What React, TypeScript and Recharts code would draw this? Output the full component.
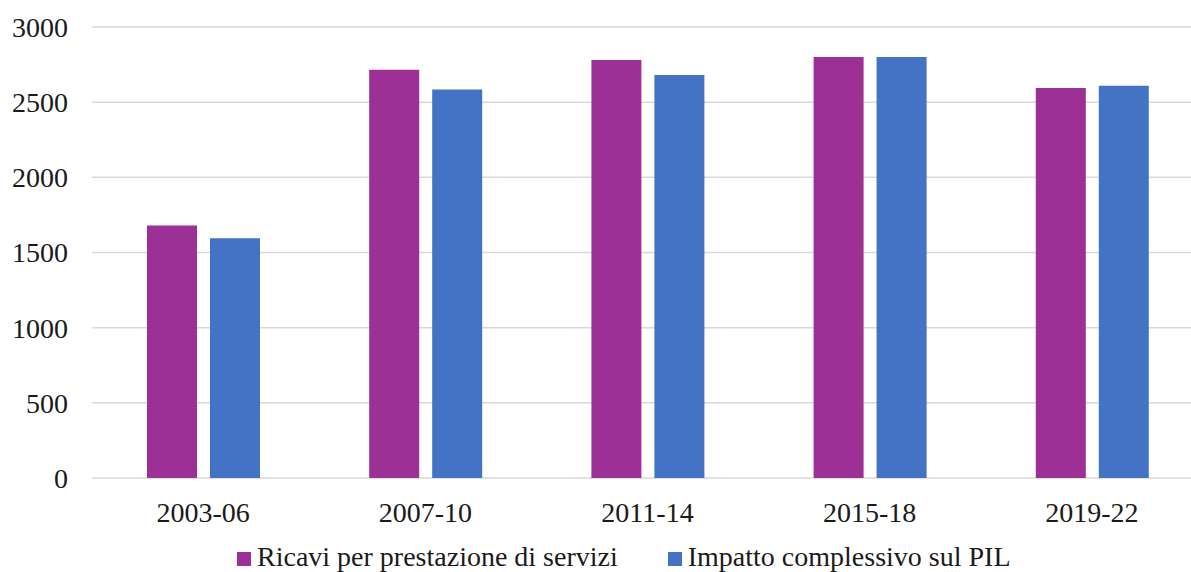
import React from "react";
import {
  BarChart,
  Bar,
  XAxis,
  YAxis,
  CartesianGrid,
  Legend,
} from "recharts";

// four-year periods on the category axis
const periods = ["2003-06", "2007-10", "2011-14", "2015-18", "2019-22"];

// revenue from services and overall GDP impact per period
const ricavi = [1680, 2715, 2780, 2800, 2595];
const impatto = [1595, 2585, 2680, 2800, 2610];

const yTicks = [0, 500, 1000, 1500, 2000, 2500, 3000];

const seriesKeys = ["ricavi", "impatto"];
const seriesNames = {
  ricavi: "Ricavi per prestazione di servizi",
  impatto: "Impatto complessivo sul PIL",
};

const data = periods.map((period, i) => ({
  period,
  ricavi: ricavi[i],
  impatto: impatto[i],
}));

const FONT = '"Liberation Serif", "Times New Roman", serif';
const PURPLE = "#9C3096";
const BLUE = "#4472C4";

function LegendContent({ payload }: any) {
  // keep the legend in series order rather than alphabetical
  const items = [...(payload || [])].sort(
    (a: any, b: any) =>
      seriesKeys.indexOf(a.dataKey) - seriesKeys.indexOf(b.dataKey)
  );
  return (
    <div
      style={{
        display: "flex",
        alignItems: "baseline",
        paddingLeft: 237,
        height: 34,
        lineHeight: "34px",
        fontFamily: FONT,
        fontSize: 28,
        color: "#1a1a1a",
      }}
    >
      {items.map((entry: any) => (
        <div
          key={entry.value}
          style={{ display: "flex", alignItems: "baseline", marginRight: 50 }}
        >
          <span
            style={{
              display: "inline-block",
              width: 14,
              height: 14,
              background: entry.color,
              marginRight: 6,
            }}
          />
          <span>{entry.value}</span>
        </div>
      ))}
    </div>
  );
}

export default function App() {
  return (
    <div
      style={{
        position: "absolute",
        left: 0,
        top: 0,
        width: 1191,
        height: 572,
        overflow: "hidden",
        background: "#fff",
      }}
    >
      <BarChart
        width={1203}
        height={572}
        data={data}
        margin={{ top: 27, right: 0, left: 0, bottom: 20 }}
        barSize={50}
        barGap={13}
      >
        <CartesianGrid vertical={false} stroke="#d9d9d9" strokeWidth={1.5} />
        <XAxis
          dataKey="period"
          height={40}
          axisLine={false}
          tickLine={false}
          tickSize={0}
          tickMargin={24}
          interval={0}
          tick={{ fontFamily: FONT, fontSize: 28, fill: "#1a1a1a" }}
        />
        <YAxis
          width={92}
          domain={[0, 3000]}
          ticks={yTicks}
          axisLine={false}
          tickLine={false}
          tickSize={0}
          tickMargin={24}
          tick={{ fontFamily: FONT, fontSize: 28, fill: "#1a1a1a" }}
        />
        <Legend
          verticalAlign="bottom"
          content={<LegendContent />}
          wrapperStyle={{ left: 0, top: 540, bottom: "auto", width: 1191, height: 34 }}
        />
        <Bar
          dataKey="ricavi"
          name={seriesNames.ricavi}
          fill={PURPLE}
          isAnimationActive={false}
        />
        <Bar
          dataKey="impatto"
          name={seriesNames.impatto}
          fill={BLUE}
          isAnimationActive={false}
        />
      </BarChart>
    </div>
  );
}
